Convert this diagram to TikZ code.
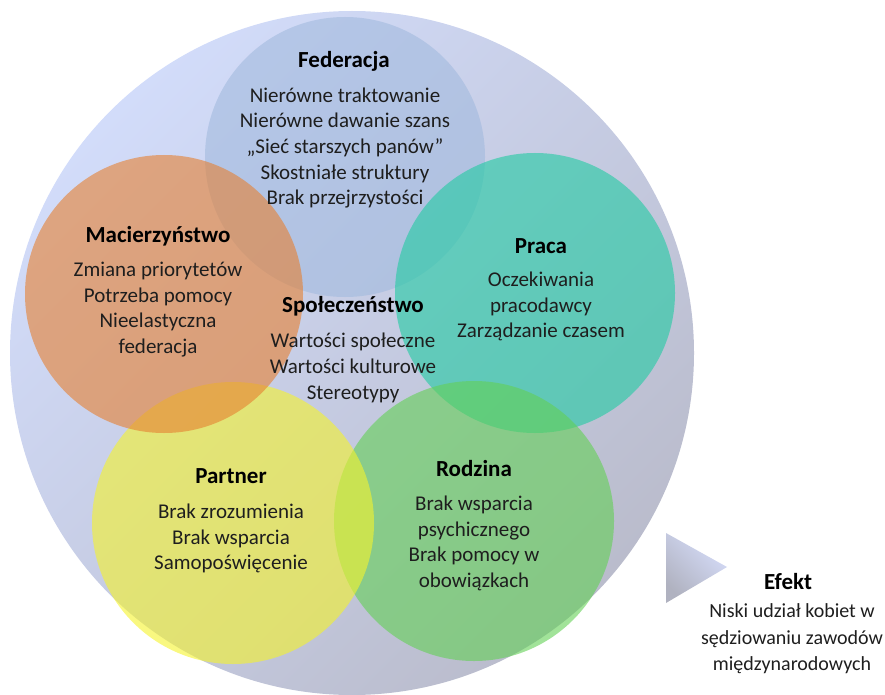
\documentclass[tikz,border=0pt]{standalone}
\usepackage{fontspec}
\setmainfont{Carlito}
\definecolor{bgA}{RGB}{210,220,250}
\definecolor{bgB}{RGB}{186,188,204}
\definecolor{triA}{RGB}{214,221,250}
\definecolor{triB}{RGB}{176,178,192}
\definecolor{fedC}{RGB}{162,186,222}
\definecolor{macC}{RGB}{230,128,49}
\definecolor{praC}{RGB}{32,203,162}
\definecolor{parC}{RGB}{245,243,44}
\definecolor{rodC}{RGB}{99,208,85}
\definecolor{txt}{RGB}{30,30,30}
\begin{document}
\begin{tikzpicture}[x=1pt,y=-1pt,
  venn/.style={fill opacity=0.6, draw=none},
  ttl/.style={font=\bfseries\fontsize{23}{27}\selectfont, text=black, inner sep=0pt},
  bd/.style={font=\fontsize{21}{25.7}\selectfont, text=txt, align=center, inner sep=0pt},
  bde/.style={font=\fontsize{20}{26.5}\selectfont, text=txt, align=center, inner sep=0pt}]
\useasboundingbox (0,0) rectangle (885,695);
% outer circle
\shade[top color=bgA, middle color=bgA!93!bgB, bottom color=bgB, shading angle=45] (352,353) circle[radius=342];
% effect triangle
\shade[top color=triA, bottom color=triB, shading angle=-45] (666,533) -- (727,567) -- (666,603) -- cycle;
% venn circles
\fill[venn, fedC] (345,157) circle[radius=140];
\fill[venn, praC] (535,293) circle[radius=140];
\fill[venn, rodC] (474,521) circle[radius=140];
\fill[venn, parC] (233,523) circle[radius=141];
\fill[venn, macC] (164,294) circle[radius=139];
% texts
\node[ttl] (fedT) at (344,61) {Federacja};
\node[bd] (fedB) at (345,148) {Nierówne traktowanie\\Nierówne dawanie szans\\„Sieć starszych panów”\\Skostniałe struktury\\Brak przejrzystości};
\node[ttl] (macT) at (158,236) {Macierzyństwo};
\node[bd] (macB) at (158,309.5) {Zmiana priorytetów\\Potrzeba pomocy\\Nieelastyczna\\federacja};
\node[ttl] (spoT) at (353,306) {Społeczeństwo};
\node[bd] (spoB) at (353,368) {Wartości społeczne\\Wartości kulturowe\\Stereotypy};
\node[ttl] (praT) at (541,246) {Praca};
\node[bd] (praB) at (541,306.5) {Oczekiwania\\pracodawcy\\Zarządzanie czasem};
\node[ttl] (parT) at (231,476.5) {Partner};
\node[bd] (parB) at (231,538.5) {Brak zrozumienia\\Brak wsparcia\\Samopoświęcenie};
\node[ttl] (rodT) at (474,468.5) {Rodzina};
\node[bd] (rodB) at (474,543.5) {Brak wsparcia\\psychicznego\\Brak pomocy w\\obowiązkach};
\node[ttl] (efT) at (788,581.5) {Efekt};
\node[bde] (efB) at (792,639) {Niski udział kobiet w\\sędziowaniu zawodów\\międzynarodowych};
\end{tikzpicture}
\end{document}
